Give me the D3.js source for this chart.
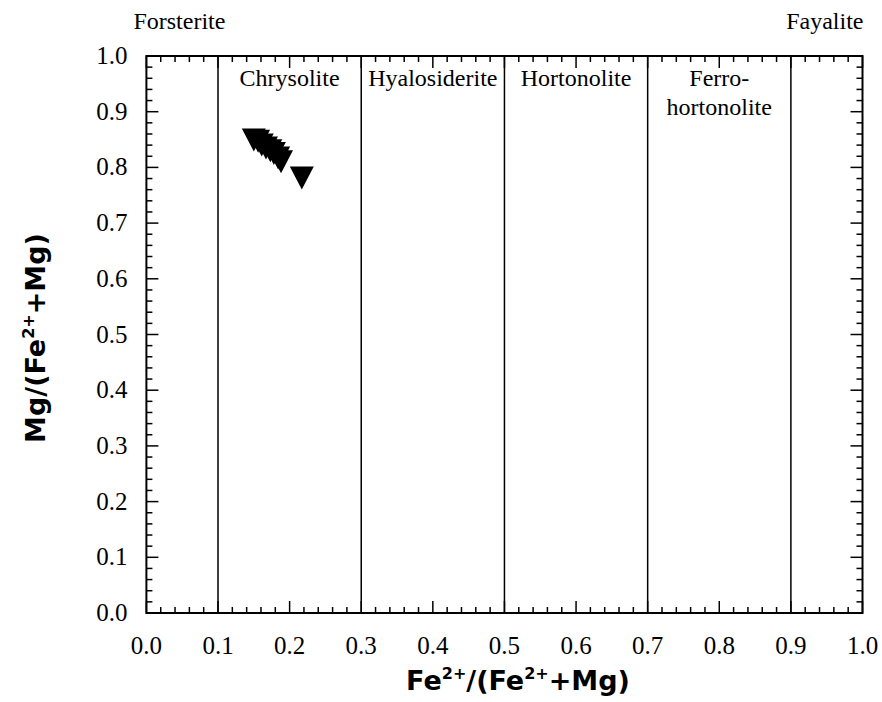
<!DOCTYPE html>
<html><head><meta charset="utf-8">
<script src="https://cdn.jsdelivr.net/npm/d3@7"></script>
<style>body{margin:0;background:#fff}</style>
</head><body>
<svg id="c" width="882" height="702"></svg>
<script>
const xTicks = [0,0.1,0.2,0.3,0.4,0.5,0.6,0.7,0.8,0.9,1.0];
const yTicks = [0,0.1,0.2,0.3,0.4,0.5,0.6,0.7,0.8,0.9,1.0];
const boundaries = [0.1,0.3,0.5,0.7,0.9];
const fieldNames = [["Chrysolite"],["Hyalosiderite"],["Hortonolite"],["Ferro-","hortonolite"]];
const fieldCenters = [0.2,0.4,0.6,0.8];
const feRatio = [0.150,0.156,0.161,0.167,0.173,0.178,0.184,0.188,0.217];
const mgRatio = [0.849,0.847,0.840,0.835,0.830,0.825,0.817,0.810,0.781];

const svg = d3.select("#c");
const L=146.4, R=862.5, T=56, B=613;
const x = d3.scaleLinear().domain([0,1]).range([L,R]);
const y = d3.scaleLinear().domain([0,1]).range([B,T]);
const serif = "'Liberation Serif','Times New Roman',serif";
const sans = "'DejaVu Sans',Verdana,sans-serif";

const minor = d3.range(0,1.0001,0.02);
const g = svg.append("g").attr("stroke","#000").attr("stroke-width",1.5);
minor.forEach(v=>{
  const major = Math.abs(v*10-Math.round(v*10))<1e-6;
  const len = major?12:6;
  g.append("line").attr("x1",x(v)).attr("x2",x(v)).attr("y1",B).attr("y2",B-len);
  g.append("line").attr("x1",x(v)).attr("x2",x(v)).attr("y1",T).attr("y2",T+len);
  g.append("line").attr("y1",y(v)).attr("y2",y(v)).attr("x1",L).attr("x2",L+len);
  g.append("line").attr("y1",y(v)).attr("y2",y(v)).attr("x1",R).attr("x2",R-len);
});
boundaries.forEach(v=>{
  svg.append("line").attr("x1",x(v)).attr("x2",x(v)).attr("y1",T).attr("y2",B)
    .attr("stroke","#000").attr("stroke-width",1.5);
});
svg.append("rect").attr("x",L).attr("y",T).attr("width",R-L).attr("height",B-T)
  .attr("fill","none").attr("stroke","#000").attr("stroke-width",2);

svg.append("g").selectAll("text").data(xTicks).join("text")
  .attr("x",d=>x(d)).attr("y",B+41).attr("text-anchor","middle")
  .attr("font-family",serif).attr("font-size",25).text(d=>d.toFixed(1));
svg.append("g").selectAll("text").data(yTicks).join("text")
  .attr("x",L-19).attr("y",d=>y(d)+8).attr("text-anchor","end")
  .attr("font-family",serif).attr("font-size",25).text(d=>d.toFixed(1));

fieldNames.forEach((lines,i)=>{
  lines.forEach((t,j)=>{
    svg.append("text").attr("x",x(fieldCenters[i])).attr("y",86+j*29)
      .attr("text-anchor","middle").attr("font-family",serif).attr("font-size",24).text(t);
  });
});
svg.append("text").attr("x",L-13).attr("y",29).attr("text-anchor","start")
  .attr("font-family",serif).attr("font-size",24).text("Forsterite");
svg.append("text").attr("x",R+1).attr("y",29).attr("text-anchor","end")
  .attr("font-family",serif).attr("font-size",24).text("Fayalite");

const w=24,h=23;
svg.append("g").selectAll("path").data(feRatio.map((d,i)=>[d,mgRatio[i]])).join("path")
  .attr("d",d=>{const cx=x(d[0]),cy=y(d[1]);return `M${cx-w/2},${cy-h/2}L${cx+w/2},${cy-h/2}L${cx},${cy+h/2}Z`;})
  .attr("fill","#000");

const xt = svg.append("text").attr("x",518).attr("y",690).attr("text-anchor","middle")
  .attr("font-family",sans).attr("font-weight","bold").attr("font-size",27);
xt.append("tspan").text("Fe");
xt.append("tspan").attr("dy",-11).attr("font-size",16).text("2+");
xt.append("tspan").attr("dy",11).text("/(Fe");
xt.append("tspan").attr("dy",-11).attr("font-size",16).text("2+");
xt.append("tspan").attr("dy",11).text("+Mg)");
const yt = svg.append("text").attr("transform",`translate(45,338) rotate(-90)`).attr("text-anchor","middle")
  .attr("font-family",sans).attr("font-weight","bold").attr("font-size",27);
yt.append("tspan").text("Mg/(Fe");
yt.append("tspan").attr("dy",-11).attr("font-size",16).text("2+");
yt.append("tspan").attr("dy",11).text("+Mg)");
</script>
</body></html>
